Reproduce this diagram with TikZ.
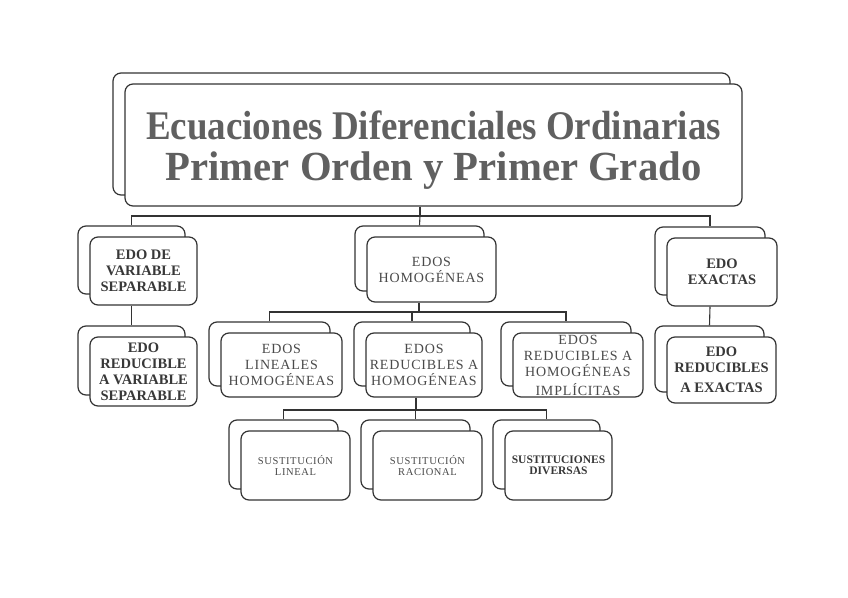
\documentclass[tikz,border=0pt]{standalone}
\usepackage{fontspec}
\setmainfont{Liberation Serif}
\newfontfamily\spacedfont[LetterSpace=6]{Liberation Serif}
\definecolor{linec}{HTML}{333333}
\definecolor{titlec}{HTML}{606060}
\definecolor{boldc}{HTML}{383838}
\definecolor{regc}{HTML}{4A4A4A}
\tikzset{
  box/.style={draw=linec, line width=1.2pt, rounded corners=8pt, fill=white, inner sep=0pt, align=center},
  conn/.style={draw=linec, line width=1.1pt},
  titletxt/.style={text=titlec, font=\fontsize{37}{41}\selectfont\bfseries},
  boldtxt/.style={text=boldc, font=\fontsize{14.5}{16}\selectfont\bfseries},
  regtxt/.style={text=regc, font=\spacedfont\fontsize{14}{16}\selectfont},
  smalltxt/.style={text=regc, font=\spacedfont\fontsize{10.5}{11}\selectfont},
  smallbold/.style={text=boldc, font=\fontsize{11.5}{11.5}\selectfont\bfseries},
}
\newcommand\twobox[7]{%
  \node[box, minimum width={(#4-#2)*1pt}, minimum height={(#5-#3)*1pt}] (b#1) at ({(#2+#4)/2-12},{(#3+#5)/2-11}) {};
  \node[box, #6, minimum width={(#4-#2)*1pt}, minimum height={(#5-#3)*1pt}] (f#1) at ({(#2+#4)/2},{(#3+#5)/2}) {#7};
}
\begin{document}
\begin{tikzpicture}[x=1pt,y=-1pt]
\useasboundingbox (0,0) rectangle (848,597);
\fill[white] (0,0) rectangle (848,597);

\twobox{T}{125}{84}{742}{206}{titletxt}{\rule{0pt}{38pt}\scalebox{1}[1.1]{Ecuaciones Diferenciales Ordinarias}\\\scalebox{1.1}[1.12]{Primer Orden y Primer Grado}}
\twobox{A}{90}{237}{197}{305}{boldtxt}{EDO DE\\VARIABLE\\SEPARABLE}
\twobox{B}{90}{337}{197}{406}{boldtxt}{EDO\\REDUCIBLE\\A VARIABLE\\SEPARABLE}
\twobox{C}{367}{237}{496}{302}{regtxt}{EDOS\\HOMOGÉNEAS}
\twobox{D}{221}{333}{342}{397}{regtxt}{EDOS\\LINEALES\\HOMOGÉNEAS}
\twobox{E}{366}{333}{482}{397}{regtxt}{EDOS\\REDUCIBLES A\\HOMOGÉNEAS}
\twobox{F}{513}{333}{643}{397}{regtxt}{EDOS\\REDUCIBLES A\\HOMOGÉNEAS\\[3pt]IMPLÍCITAS}
\twobox{G}{667}{238}{777}{306}{boldtxt}{EDO\\EXACTAS}
\twobox{H}{667}{337}{776}{403}{boldtxt}{EDO\\REDUCIBLES\\[4pt]A EXACTAS}
\twobox{I}{241}{431}{350}{500}{smalltxt}{SUSTITUCIÓN\\LINEAL}
\twobox{J}{373}{431}{482}{500}{smalltxt}{SUSTITUCIÓN\\RACIONAL}
\twobox{K}{505}{431}{612}{500}{smallbold}{SUSTITUCIONES\\DIVERSAS}

% connectors
\coordinate (busT) at (420,216);
\coordinate (busC) at (419,312);
\coordinate (busE) at (416,410);
\draw[conn] (fT.south -| busT) -- (busT);
\draw[conn] (bA.north) |- (busT) -| (bG.north);
\draw[conn] (busT) -- (bC.north);
\draw[conn] (fA.south -| bA.north) -- (bB.north);
\draw[conn] (fG.south -| bG.north) -- (bH.north);
\draw[conn] (fC.south -| busC) -- (busC);
\draw[conn] (bD.north) |- (busC) -| (bF.north);
\draw[conn] (busC -| bE.north) -- (bE.north);
\draw[conn] (fE.south -| busE) -- (busE);
\draw[conn] (bI.north) |- (busE) -| (bK.north);
\draw[conn] (busE -| bJ.north) -- (bJ.north);
\end{tikzpicture}
\end{document}
